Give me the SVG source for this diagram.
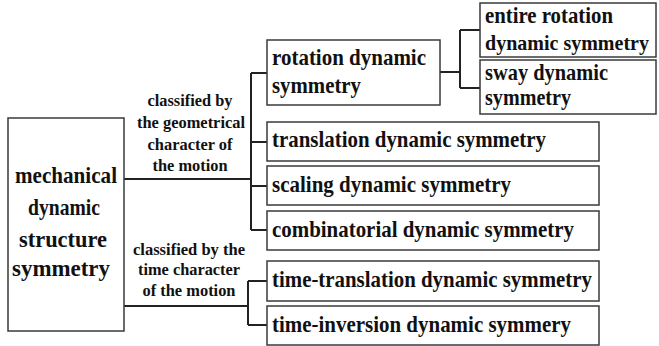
<svg xmlns="http://www.w3.org/2000/svg" width="659" height="346" viewBox="0 0 659 346">
<style>
.box{fill:#fff;stroke:#3a3a3a;stroke-width:1.5}
text{font-family:'Liberation Serif','Times New Roman',serif;font-weight:bold;fill:#111}
.b{font-size:23px}
.s{font-size:21px}
.l{font-size:17.5px;text-anchor:middle}
.m{font-size:23px;text-anchor:middle}
.c{fill:none;stroke:#222;stroke-width:2}
</style>
<rect width="659" height="346" fill="#fff"/>
<g id="connectors">
<path class="c" d="M124,179H251M251,73V230M251,73H267M251,142H267M251,186H267M251,230H267"/>
<path class="c" d="M124,306H248M248,281V325M248,281H267M248,325H267"/>
<path class="c" d="M440,72H460M460,30V88M460,30H480M460,88H480"/>
</g>
<g id="root">
<rect class="box" x="8" y="118" width="116" height="213"/>
<text class="m" x="66" y="183" textLength="102" lengthAdjust="spacingAndGlyphs">mechanical</text>
<text class="m" x="64" y="215" textLength="72" lengthAdjust="spacingAndGlyphs">dynamic</text>
<text class="m" x="63" y="247" textLength="88" lengthAdjust="spacingAndGlyphs">structure</text>
<text class="m" x="61" y="276" textLength="98" lengthAdjust="spacingAndGlyphs">symmetry</text>
</g>
<g id="label-geometrical">
<text class="l" x="190" y="106" textLength="85" lengthAdjust="spacingAndGlyphs">classified by</text>
<text class="l" x="191" y="128" textLength="108" lengthAdjust="spacingAndGlyphs">the geometrical</text>
<text class="l" x="190" y="150" textLength="85" lengthAdjust="spacingAndGlyphs">character of</text>
<text class="l" x="190" y="171" textLength="75" lengthAdjust="spacingAndGlyphs">the motion</text>
</g>
<g id="label-time">
<text class="l" x="189" y="255" textLength="112" lengthAdjust="spacingAndGlyphs">classified by the</text>
<text class="l" x="189" y="275" textLength="102" lengthAdjust="spacingAndGlyphs">time character</text>
<text class="l" x="189" y="296" textLength="93" lengthAdjust="spacingAndGlyphs">of the motion</text>
</g>
<g id="rotation">
<rect class="box" x="267" y="40" width="173" height="65"/>
<text class="b" x="272" y="65" textLength="154" lengthAdjust="spacingAndGlyphs">rotation dynamic</text>
<text class="b" x="272" y="93" textLength="89" lengthAdjust="spacingAndGlyphs">symmetry</text>
</g>
<g id="entire-rotation">
<rect class="box" x="480" y="3" width="176" height="54"/>
<text class="b" x="485" y="23" textLength="128" lengthAdjust="spacingAndGlyphs">entire rotation</text>
<text class="s" x="485" y="50" textLength="164" lengthAdjust="spacingAndGlyphs">dynamic symmetry</text>
</g>
<g id="sway">
<rect class="box" x="480" y="60" width="176" height="54"/>
<text class="b" x="485" y="80" textLength="123" lengthAdjust="spacingAndGlyphs">sway dynamic</text>
<text class="b" x="485" y="105" textLength="86" lengthAdjust="spacingAndGlyphs">symmetry</text>
</g>
<g id="translation">
<rect class="box" x="267" y="122" width="332" height="39"/>
<text class="b" x="272" y="147" textLength="274" lengthAdjust="spacingAndGlyphs">translation dynamic symmetry</text>
</g>
<g id="scaling">
<rect class="box" x="267" y="166" width="332" height="39"/>
<text class="b" x="272" y="192" textLength="239" lengthAdjust="spacingAndGlyphs">scaling dynamic symmetry</text>
</g>
<g id="combinatorial">
<rect class="box" x="267" y="211" width="332" height="39"/>
<text class="b" x="272" y="237" textLength="302" lengthAdjust="spacingAndGlyphs">combinatorial dynamic symmetry</text>
</g>
<g id="time-translation">
<rect class="box" x="267" y="261" width="332" height="40"/>
<text class="b" x="272" y="287" textLength="320" lengthAdjust="spacingAndGlyphs">time-translation dynamic symmetry</text>
</g>
<g id="time-inversion">
<rect class="box" x="267" y="306" width="332" height="39"/>
<text class="b" x="272" y="332" textLength="299" lengthAdjust="spacingAndGlyphs">time-inversion dynamic symmery</text>
</g>
</svg>
